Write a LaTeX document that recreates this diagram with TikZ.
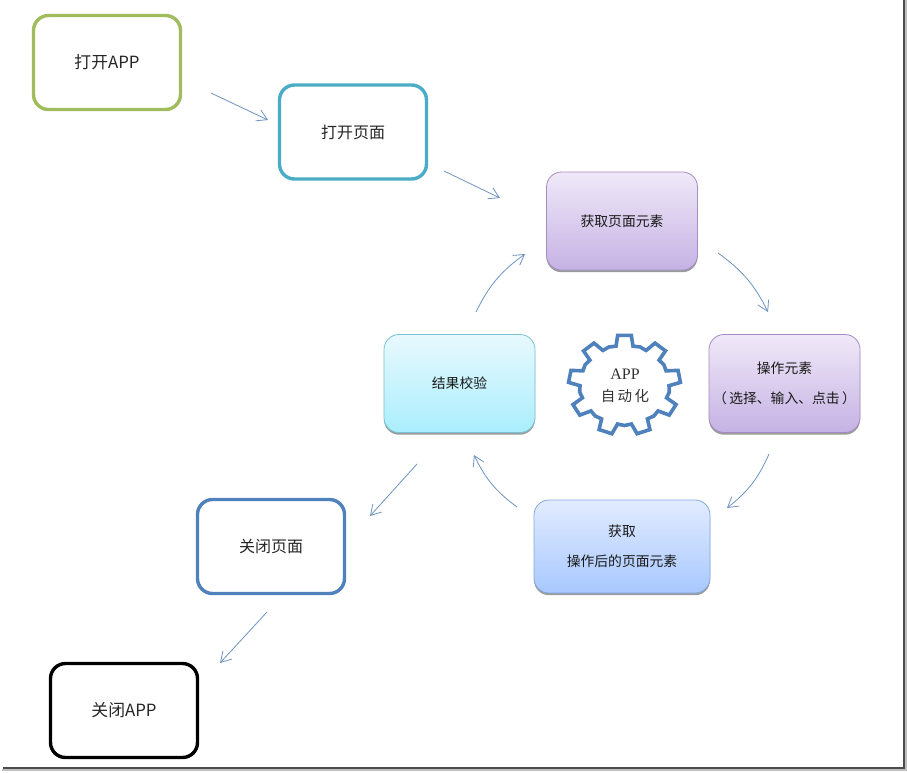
\documentclass[tikz,border=0pt]{standalone}
\usepackage{fontspec}
\setmainfont{Noto Sans CJK SC}
\usetikzlibrary{arrows.meta,shadows}
\definecolor{arrowc}{HTML}{6F94C0}
\definecolor{gearcol}{HTML}{4F81BD}
\definecolor{greenc}{RGB}{160,188,92}
\definecolor{tealc}{RGB}{75,172,198}
\definecolor{purpd}{RGB}{165,140,195}
\definecolor{purpt}{RGB}{240,233,248}
\definecolor{purpb}{RGB}{197,178,228}
\definecolor{cyand}{RGB}{120,195,212}
\definecolor{cyant}{RGB}{232,249,253}
\definecolor{cyanb}{RGB}{170,238,253}
\definecolor{blued}{RGB}{130,168,222}
\definecolor{bluet}{RGB}{226,236,255}
\definecolor{blueb}{RGB}{168,200,255}
\tikzset{
  outline/.style={draw=#1,line width=3.4pt,rounded corners=15pt,fill=white,minimum width=147pt,minimum height=94pt,inner sep=0pt,font=\fontsize{16.8}{20}\selectfont,text=black!85},
  pagefont/.style={font=\fontsize{16}{20}\selectfont},
  glossy/.style n args={3}{draw=#1,line width=0.8pt,rounded corners=15pt,top color=#2,bottom color=#3,
    drop shadow={shadow xshift=0pt,shadow yshift=-2.2pt,opacity=.6,fill=black!65},
    minimum width=151pt,minimum height=98pt,inner sep=0pt,align=center,font=\fontsize{13.8}{30}\selectfont,text=black!90},
  flow/.style={draw=arrowc,line width=0.8pt,-{Straight Barb[length=10pt,width=12pt,line width=0.8pt]}},
  gearline/.style={draw=gearcol,line width=3.6pt,line join=miter,fill=white},
  frameline/.style={draw=#1,line cap=butt},
}
\begin{document}
\begin{tikzpicture}[x=1pt,y=-1pt]
\useasboundingbox (0,0) rectangle (907,772);
\fill[white] (0,0) rectangle (907,772);
% frame of the screenshot
\coordinate (fa) at (2,769.5);
\coordinate (fb) at (905.5,769.5);
\coordinate (fc) at (905.5,0);
\draw[frameline=black!25,line width=2pt] (fa) -- (fb) -- (fc);
\coordinate (fd) at (3,768);
\coordinate (fe) at (904,768);
\coordinate (ff) at (904,0);
\draw[frameline=black!70,line width=1.6pt] (fd) -- (fe) -- (ff);

% plain boxes
\node[outline=greenc] (openapp) at (107,62.5) {打开APP};
\node[outline=tealc,pagefont] (openpage) at (353,132) {打开页面};
\node[outline=gearcol,pagefont] (closepage) at (271,546.5) {关闭页面};
\node[outline=black] (closeapp) at (124,710.5) {关闭APP};

% gradient boxes
\node[glossy={purpd}{purpt}{purpb}] (getel) at (622,221) {获取页面元素};
\node[glossy={purpd}{purpt}{purpb}] (operate) at (784.5,383.5) {操作元素\\（\,选择、输入、点击\,）};
\node[glossy={cyand}{cyant}{cyanb}] (check) at (459.5,383.5) {结果校验};
\node[glossy={blued}{bluet}{blueb},minimum width=176pt,minimum height=93pt] (after) at (622,546.5) {获取\\操作后的页面元素};

% gear
\coordinate (gearc) at (624.5,385);
\draw[gearline,shift={(gearc)}] (-97:56 and 50)
  \foreach \a in {-90,-50,-10,30,70,110,150,190,230} {
    -- ({\a-7}:56 and 50) -- ({\a+7}:56 and 50) -- ({\a+11}:44.5 and 39.5) -- ({\a+20}:45.5 and 40.5) -- ({\a+29}:44.5 and 39.5)
  } -- cycle;
\node[inner sep=0pt,align=center,font=\fontsize{14.5}{22}\selectfont,text=black!80] (gearlabel) at (625,386)
  {{\fontspec{Liberation Serif}\fontsize{16}{22}\selectfont APP}\\自\,动\,化};

% connector ends
\coordinate (a1) at (211,93);   \coordinate (a2) at (268,120);
\coordinate (b1) at (444,171);  \coordinate (b2) at (500,198);
\coordinate (c1) at (718,253);  \coordinate (c2) at (768,312);
\coordinate (d1) at (769,454);  \coordinate (d2) at (727,508);
\coordinate (e1) at (517,507);  \coordinate (e2) at (474,455);
\coordinate (f1) at (476,312);  \coordinate (f2) at (525,254);
\coordinate (g1) at (417,464);  \coordinate (g2) at (370,516);
\coordinate (h1) at (267,612);  \coordinate (h2) at (220,663);

\draw[flow] (a1) -- (a2);
\draw[flow] (b1) -- (b2);
\draw[flow] (c1) to[bend left=14] (c2);
\draw[flow] (d1) to[bend left=14] (d2);
\draw[flow] (e1) to[bend left=14] (e2);
\draw[flow] (f1) to[bend left=14] (f2);
\draw[flow] (g1) -- (g2);
\draw[flow] (h1) -- (h2);
\end{tikzpicture}
\end{document}
